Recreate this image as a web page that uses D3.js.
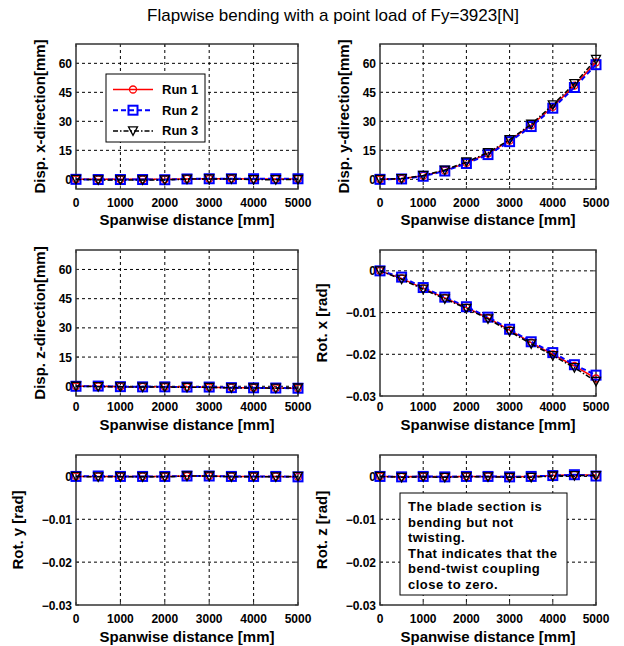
<!DOCTYPE html>
<html>
<head>
<meta charset="utf-8">
<script src="https://cdn.jsdelivr.net/npm/d3@7.9.0/dist/d3.min.js"></script>
<style>
  body { margin: 0; background: #fff; }
  svg { display: block; font-family: "Liberation Sans", Arial, sans-serif; }
</style>
</head>
<body>
<svg id="chart" width="624" height="646"></svg>
<script>
// spanwise positions [mm]
const spans = [0, 500, 1000, 1500, 2000, 2500, 3000, 3500, 4000, 4500, 5000];
const runNames = ['Run 1', 'Run 2', 'Run 3'];

// Disp. x [mm]
const dispX1 = [0, 0, 0, 0, 0, 0.2, 0.3, 0.3, 0.2, 0.2, 0.2];
const dispX2 = [0, -0.1, -0.1, -0.1, -0.2, 0.2, 0.3, 0.3, 0.3, 0.3, 0.3];
const dispX3 = [0, -0.3, -0.3, -0.3, -0.3, 0.1, 0.2, 0.2, -0.1, -0.2, 0];

// Disp. y [mm]
const dispY1 = [0, 0.3, 1.8, 4.5, 8.5, 13.3, 20, 28, 37.5, 48.5, 60.5];
const dispY2 = [0, 0.2, 1.6, 4.3, 8.2, 12.8, 19.5, 27.3, 36.8, 47.5, 59.3];
const dispY3 = [0, 0.4, 2, 4.8, 9, 13.8, 20.5, 28.5, 38.5, 49.5, 62];

// Disp. z [mm]
const dispZ1 = [0, 0, -0.2, -0.3, -0.3, -0.4, -0.5, -0.7, -0.8, -0.9, -1];
const dispZ2 = [0, 0.1, -0.2, -0.3, -0.3, -0.4, -0.4, -0.7, -0.8, -0.9, -1];
const dispZ3 = [0, -0.2, -0.3, -0.4, -0.4, -0.5, -0.6, -0.8, -0.9, -1, -0.9];

// Rot. x [rad]
const rotX1 = [0, -0.0018, -0.0042, -0.0065, -0.0088, -0.0113, -0.0142, -0.0172, -0.0200, -0.0228, -0.0258];
const rotX2 = [0, -0.0015, -0.0040, -0.0063, -0.0086, -0.0111, -0.0140, -0.0170, -0.0196, -0.0225, -0.0250];
const rotX3 = [0, -0.0020, -0.0044, -0.0067, -0.0090, -0.0115, -0.0145, -0.0175, -0.0203, -0.0232, -0.0265];

// Rot. y [rad]
const rotY1 = [0, 0, 0, 0, 0, 0.0001, 0.0001, 0, 0, 0, -0.0001];
const rotY2 = [0, 0.0001, 0, 0, 0, 0.0001, 0.0001, 0, 0, 0, -0.0001];
const rotY3 = [0, -0.0001, -0.0001, -0.0001, -0.0001, 0.0001, 0.0001, -0.0001, -0.0001, -0.0001, 0];

// Rot. z [rad]
const rotZ1 = [0, -0.0001, 0, -0.0001, 0, 0, -0.0001, 0, 0.0002, 0.0004, 0.0003];
const rotZ2 = [0, -0.0001, 0, -0.0001, 0, 0, -0.0001, 0, 0.0002, 0.0004, 0.0001];
const rotZ3 = [0, -0.0002, -0.0001, -0.0002, -0.0001, -0.0001, -0.0002, -0.0002, 0.0001, 0.0002, 0.0002];

const xTicks = [0, 1000, 2000, 3000, 4000, 5000];
const dispTicks = [0, 15, 30, 45, 60];
const rotTicks = [0, -0.01, -0.02, -0.03];

const title = 'Flapwise bending with a point load of Fy=3923[N]';
const xLabel = 'Spanwise distance [mm]';
const note = ['The blade section is', 'bending but not', 'twisting.', 'That indicates that the', 'bend-twist coupling', 'close to zero.'];

const colLeft  = { left: 76,  right: 298, labelX: 40 };
const colRight = { left: 380, right: 596, labelX: 344 };
const rowTop = { top: 44,  bottom: 189, tickY: 207, xlabelY: 225 };
const rowMid = { top: 250, bottom: 396, tickY: 411, xlabelY: 430 };
const rowBot = { top: 455, bottom: 605, tickY: 623, xlabelY: 642 };

const panels = [
  { col: colLeft,  row: rowTop, ylabel: 'Disp. x-direction[mm]', domain: [-5, 70], ticks: dispTicks, runs: [dispX1, dispX2, dispX3], legend: true },
  { col: colRight, row: rowTop, ylabel: 'Disp. y-direction[mm]', domain: [-5, 70], ticks: dispTicks, runs: [dispY1, dispY2, dispY3] },
  { col: colLeft,  row: rowMid, ylabel: 'Disp. z-direction[mm]', domain: [-5, 70], ticks: dispTicks, runs: [dispZ1, dispZ2, dispZ3] },
  { col: colRight, row: rowMid, ylabel: 'Rot. x [rad]', domain: [-0.03, 0.005], ticks: rotTicks, runs: [rotX1, rotX2, rotX3], rot: true },
  { col: colLeft,  row: rowBot, ylabel: 'Rot. y [rad]', domain: [-0.03, 0.005], ticks: rotTicks, runs: [rotY1, rotY2, rotY3], rot: true },
  { col: colRight, row: rowBot, ylabel: 'Rot. z [rad]', domain: [-0.03, 0.005], ticks: rotTicks, runs: [rotZ1, rotZ2, rotZ3], rot: true, note: true },
];

const styles = [
  { color: '#ff0000', width: 1.5, dash: null,        marker: 'circle' },
  { color: '#0000ff', width: 2,   dash: '5,3',       marker: 'square' },
  { color: '#000000', width: 1.5, dash: '5,2,1.5,2', marker: 'tri' },
];

const svg = d3.select('#chart');

svg.append('text')
  .attr('x', 333).attr('y', 21)
  .attr('text-anchor', 'middle')
  .style('font-size', '17px')
  .text(title);

function drawMarker(g, type, x, y, s) {
  if (type === 'circle') {
    g.append('circle').attr('cx', x).attr('cy', y).attr('r', 3.5)
      .attr('fill', 'none').attr('stroke', s.color).attr('stroke-width', 1.3);
  } else if (type === 'square') {
    g.append('rect').attr('x', x - 4.5).attr('y', y - 4.5).attr('width', 9).attr('height', 9)
      .attr('fill', 'none').attr('stroke', s.color).attr('stroke-width', 2);
  } else {
    g.append('path').attr('d', `M${x - 4.5},${y - 4}L${x + 4.5},${y - 4}L${x},${y + 4.5}Z`)
      .attr('fill', 'none').attr('stroke', s.color).attr('stroke-width', 1.3);
  }
}

panels.forEach(p => {
  const { left, right, labelX } = p.col;
  const { top, bottom, tickY, xlabelY } = p.row;

  const x = d3.scaleLinear().domain([0, 5000]).range([left, right]);
  const y = d3.scaleLinear().domain(p.domain).range([bottom, top]);

  const g = svg.append('g');

  g.append('rect')
    .attr('x', left).attr('y', top)
    .attr('width', right - left).attr('height', bottom - top)
    .attr('fill', '#fff');

  // dashed grid
  const grid = g.append('g').attr('stroke', '#000').attr('stroke-width', 1).attr('stroke-dasharray', '3,3');
  xTicks.slice(1, -1).forEach(t => {
    grid.append('line').attr('x1', x(t)).attr('x2', x(t)).attr('y1', top).attr('y2', bottom);
  });
  p.ticks.forEach(t => {
    if (y(t) > top + 1 && y(t) < bottom - 1)
      grid.append('line').attr('x1', left).attr('x2', right).attr('y1', y(t)).attr('y2', y(t));
  });

  // frame
  g.append('rect')
    .attr('x', left).attr('y', top)
    .attr('width', right - left).attr('height', bottom - top)
    .attr('fill', 'none').attr('stroke', '#333').attr('stroke-width', 1.5);

  // inner ticks
  const tk = g.append('g').attr('stroke', '#333').attr('stroke-width', 1);
  xTicks.forEach(t => {
    tk.append('line').attr('x1', x(t)).attr('x2', x(t)).attr('y1', bottom).attr('y2', bottom - 3);
    tk.append('line').attr('x1', x(t)).attr('x2', x(t)).attr('y1', top).attr('y2', top + 3);
  });
  p.ticks.forEach(t => {
    tk.append('line').attr('x1', left).attr('x2', left + 3).attr('y1', y(t)).attr('y2', y(t));
    tk.append('line').attr('x1', right).attr('x2', right - 3).attr('y1', y(t)).attr('y2', y(t));
  });

  // tick labels
  const lab = g.append('g').style('font-size', '12px').style('font-weight', 'bold').attr('fill', '#000');
  xTicks.forEach(t => {
    lab.append('text').attr('x', x(t)).attr('y', tickY).attr('text-anchor', 'middle').text(t);
  });
  p.ticks.forEach(t => {
    lab.append('text').attr('x', left - 4).attr('y', y(t) + 4.5).attr('text-anchor', 'end')
      .text(p.rot ? (t === 0 ? '0' : d3.format('.2f')(t)) : t);
  });

  g.append('text')
    .attr('x', (left + right) / 2).attr('y', xlabelY)
    .attr('text-anchor', 'middle')
    .style('font-size', '15px').style('font-weight', 'bold')
    .text(xLabel);

  const yl = p.rot ? labelX - 22 : labelX;
  g.append('text')
    .attr('transform', `translate(${yl + 5},${(top + bottom) / 2}) rotate(-90)`)
    .attr('text-anchor', 'middle')
    .style('font-size', '15px').style('font-weight', 'bold')
    .text(p.ylabel);

  // series
  p.runs.forEach((vals, i) => {
    const s = styles[i];
    const line = d3.line().x((d, j) => x(spans[j])).y(d => y(d));
    g.append('path').datum(vals)
      .attr('d', line)
      .attr('fill', 'none')
      .attr('stroke', s.color)
      .attr('stroke-width', s.width)
      .attr('stroke-dasharray', s.dash);
    const mg = g.append('g');
    vals.forEach((v, j) => drawMarker(mg, s.marker, x(spans[j]), y(v), s));
  });

  if (p.legend) {
    const lg = g.append('g');
    lg.append('rect').attr('x', 106).attr('y', 74).attr('width', 99).attr('height', 68)
      .attr('fill', '#fff').attr('stroke', '#000').attr('stroke-width', 1);
    runNames.forEach((name, i) => {
      const s = styles[i];
      const ly = 89.5 + i * 20.7;
      lg.append('line').attr('x1', 113).attr('x2', 153).attr('y1', ly).attr('y2', ly)
        .attr('stroke', s.color).attr('stroke-width', s.width).attr('stroke-dasharray', s.dash);
      drawMarker(lg, s.marker, 133, ly, s);
      lg.append('text').attr('x', 162).attr('y', ly + 4.5)
        .style('font-size', '13px').style('font-weight', 'bold').text(name);
    });
  }

  if (p.note) {
    const ng = g.append('g');
    ng.append('rect').attr('x', 400).attr('y', 493).attr('width', 167).attr('height', 102)
      .attr('fill', '#fff').attr('stroke', '#000').attr('stroke-width', 1);
    note.forEach((t, i) => {
      ng.append('text').attr('x', 408).attr('y', 511 + i * 15.5)
        .style('font-size', '13px').style('font-weight', 'bold').style('letter-spacing', '0.5px')
        .text(t);
    });
  }
});
</script>
</body>
</html>
